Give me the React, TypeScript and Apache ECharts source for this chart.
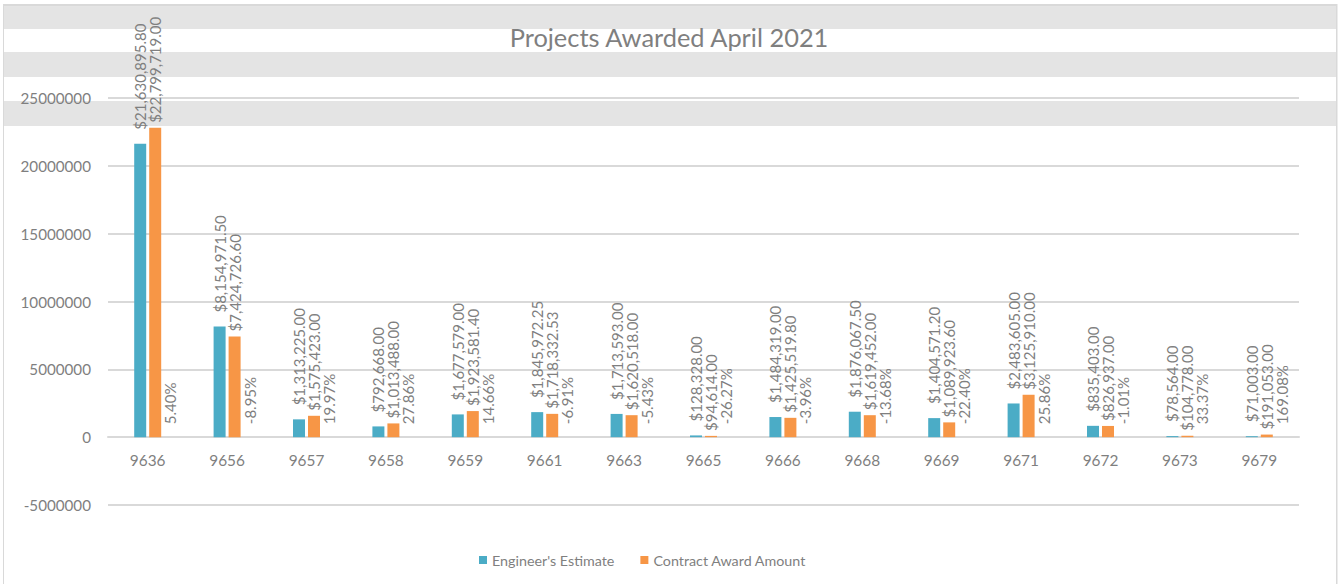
import React, { useEffect, useRef } from 'react';
import * as echarts from 'echarts';

const categories = ['9636', '9656', '9657', '9658', '9659', '9661', '9663', '9665', '9666', '9668', '9669', '9671', '9672', '9673', '9679'];
const engineersEstimate = [21630895.8, 8154971.5, 1313225.0, 792668.0, 1677579.0, 1845972.25, 1713593.0, 128328.0, 1484319.0, 1876067.5, 1404571.2, 2483605.0, 835403.0, 78564.0, 71003.0];
const contractAward = [22799719.0, 7424726.6, 1575423.0, 1013488.0, 1923581.4, 1718332.53, 1620518.0, 94614.0, 1425519.8, 1619452.0, 1089923.6, 3125910.0, 826937.0, 104778.0, 191053.0];
const percentDiff = [5.4, -8.95, 19.97, 27.86, 14.66, -6.91, -5.43, -26.27, -3.96, -13.68, -22.4, 25.86, -1.01, 33.37, 169.08];
const spacer = categories.map(() => null);

const Y_MIN = -5000000;
const Y_MAX = 25000000;
const Y_INTERVAL = 5000000;

const TEXT = '#7f7f7f';
const FONT = 'Lato, "Open Sans", sans-serif';
const GRID = '#d9d9d9';
const BAND = '#e4e4e4';

const GRID_TOP = 98;
const GRID_BOTTOM = 79;
const CHART_H = 584;

const fmtMoney = (v: number) => {
  const fixed = Math.abs(v).toFixed(2);
  const [intPart, dec] = fixed.split('.');
  const withCommas = intPart.replace(/\B(?=(\d{3})+(?!\d))/g, ',');
  return '$' + withCommas + '.' + dec;
};

const labelBase = {
  show: true,
  position: 'top',
  rotate: 90,
  align: 'left',
  verticalAlign: 'middle',
  color: TEXT,
  fontSize: 15,
  fontFamily: FONT,
};

export default function App() {
  const ref = useRef<HTMLDivElement>(null);
  useEffect(() => {
    if (!ref.current) return;
    const chart = echarts.init(ref.current, null, { renderer: 'svg' });
    const plotH = CHART_H - GRID_TOP - GRID_BOTTOM;
    const zeroOffset = -(plotH * (0 - Y_MIN)) / (Y_MAX - Y_MIN);
    chart.setOption({
      animation: false,
      backgroundColor: '#ffffff',
      title: {
        text: 'Projects Awarded April 2021',
        left: 'center',
        top: 19,
        textStyle: { color: TEXT, fontSize: 25.4, fontWeight: 'normal', fontFamily: FONT },
      },
      graphic: [
        { type: 'rect', z: -1, shape: { x: 4, y: 6.5, width: 1332, height: 22.5 }, style: { fill: BAND } },
        { type: 'rect', z: -1, shape: { x: 4, y: 52, width: 1332, height: 25 }, style: { fill: BAND } },
        { type: 'rect', z: -1, shape: { x: 4, y: 101, width: 1332, height: 25 }, style: { fill: BAND } },
        { type: 'rect', z: -1, shape: { x: 3, y: 4, width: 1334, height: 2.5 }, style: { fill: GRID } },
        { type: 'rect', z: -1, shape: { x: 3, y: 4, width: 1, height: 580 }, style: { fill: GRID } },
        { type: 'rect', z: -1, shape: { x: 1336, y: 4, width: 1.5, height: 580 }, style: { fill: GRID } },
      ],
      legend: {
        data: ["Engineer's Estimate", 'Contract Award Amount'],
        left: 474,
        top: 548,
        icon: 'rect',
        itemWidth: 8,
        itemHeight: 8,
        itemGap: 26,
        textStyle: { color: TEXT, fontSize: 14.3, fontFamily: FONT },
      },
      grid: { left: 108, right: 39, top: GRID_TOP, bottom: GRID_BOTTOM, containLabel: false },
      xAxis: {
        type: 'category',
        data: categories,
        position: 'bottom',
        offset: zeroOffset,
        axisLine: { onZero: false, lineStyle: { color: GRID, width: 2 } },
        axisTick: { show: false },
        axisLabel: { color: TEXT, fontSize: 15.4, fontFamily: FONT, margin: 15 },
      },
      yAxis: {
        type: 'value',
        min: Y_MIN,
        max: Y_MAX,
        interval: Y_INTERVAL,
        axisLine: { show: false },
        axisTick: { show: false },
        splitLine: { lineStyle: { color: GRID, width: 2 } },
        axisLabel: { color: TEXT, fontSize: 15.2, fontFamily: FONT, margin: 17, formatter: (v: number) => String(v) },
      },
      series: [
        {
          name: 'spacer',
          type: 'bar',
          data: spacer,
          barWidth: 12,
          barGap: '25%',
          itemStyle: { color: 'rgba(0,0,0,0)' },
        },
        {
          name: "Engineer's Estimate",
          type: 'bar',
          data: engineersEstimate,
          barWidth: 12,
          barGap: '25%',
          itemStyle: { color: '#4bacc6' },
          label: { ...labelBase, distance: 14, formatter: (p: any) => fmtMoney(p.value) },
        },
        {
          name: 'Contract Award Amount',
          type: 'bar',
          data: contractAward,
          barWidth: 12,
          barGap: '25%',
          itemStyle: { color: '#f79646' },
          label: { ...labelBase, distance: 5, formatter: (p: any) => fmtMoney(p.value) },
        },
        {
          name: 'Percent Difference',
          type: 'bar',
          data: percentDiff.map((v) => v / 100),
          barWidth: 12,
          barGap: '25%',
          itemStyle: { color: 'rgba(0,0,0,0)' },
          label: {
            ...labelBase,
            distance: 13,
            formatter: (p: any) => percentDiff[p.dataIndex].toFixed(2) + '%',
          },
        },
      ],
    });
    return () => chart.dispose();
  }, []);
  return (
    <div
      ref={ref}
      style={{ position: 'absolute', left: 0, top: 0, width: 1338, height: 584 }}
    />
  );
}
